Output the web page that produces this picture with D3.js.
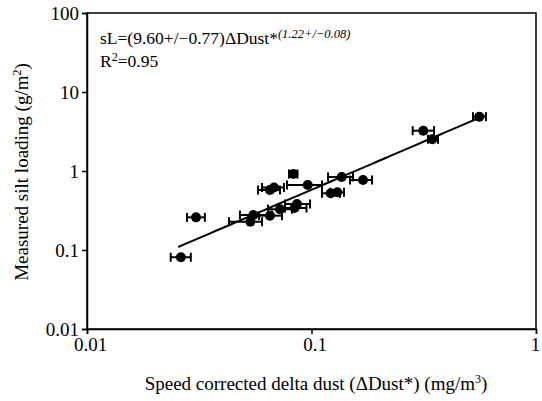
<!DOCTYPE html>
<html>
<head>
<meta charset="utf-8">
<script src="https://cdn.jsdelivr.net/npm/d3@7"></script>
<style>
  body { margin: 0; background: #fff; }
  text { font-family: "Liberation Serif", "Times New Roman", serif; fill: #000; }
</style>
</head>
<body>
<script>
// speed corrected delta dust (mg/m3), its error bar ends, and measured silt loading (g/m2)
var dust    = [0.0262, 0.0306, 0.0534, 0.0551, 0.0653, 0.0724, 0.0862, 0.0840, 0.0653, 0.0681, 0.0830, 0.0962, 0.1218, 0.1303, 0.1363, 0.1696, 0.5591, 0.3148, 0.3452];
var dustLo  = [0.0236, 0.0279, 0.0429, 0.0480, 0.0584, 0.0640, 0.0762, 0.0762, 0.0578, 0.0602, 0.0794, 0.0778, 0.1114, 0.1209, 0.1185, 0.1484, 0.5242, 0.2823, 0.3304];
var dustHi  = [0.0290, 0.0335, 0.0602, 0.0667, 0.0739, 0.0819, 0.0985, 0.0950, 0.0724, 0.0754, 0.0866, 0.1114, 0.1339, 0.1396, 0.1531, 0.1860, 0.5988, 0.3513, 0.3661];
var silt    = [0.081, 0.259, 0.228, 0.277, 0.272, 0.328, 0.382, 0.340, 0.575, 0.618, 0.916, 0.665, 0.522, 0.538, 0.840, 0.769, 4.87, 3.24, 2.52];

// fitted power law sL = a * dust^b
var fitA = 9.60, fitB = 1.22;
var fitRange = [0.0255, 0.59];

var xTicks = [0.01, 0.1, 1];
var yTicks = [0.01, 0.1, 1, 10, 100];

var width = 542, height = 401;
var margin = {left: 87, right: 6, top: 13, bottom: 72};

var svg = d3.select("body").append("svg")
    .attr("width", width)
    .attr("height", height);

var x = d3.scaleLog().domain([0.01, 1]).range([margin.left, width - margin.right]);
var y = d3.scaleLog().domain([0.01, 100]).range([height - margin.bottom, margin.top]);

var fmt = function(d) { return String(d); };

// frame (top & right)
svg.append("rect")
    .attr("x", x(0.01)).attr("y", y(100))
    .attr("width", x(1) - x(0.01)).attr("height", y(0.01) - y(100))
    .attr("fill", "none").attr("stroke", "#000").attr("stroke-width", 1.5);

var xAxis = svg.append("g")
    .attr("transform", "translate(0," + y(0.01) + ")")
    .call(d3.axisBottom(x).tickValues(xTicks).tickFormat(fmt).tickSize(5).tickPadding(4));
var yAxis = svg.append("g")
    .attr("transform", "translate(" + x(0.01) + ",0)")
    .call(d3.axisLeft(y).tickValues(yTicks).tickFormat(fmt).tickSize(5).tickPadding(3));

[xAxis, yAxis].forEach(function(g) {
  g.select(".domain").attr("stroke-width", 1.5);
  g.selectAll(".tick line").attr("stroke-width", 1.5);
  g.selectAll("text").attr("font-family", "Liberation Serif").attr("font-size", 19).attr("fill", "#000");
});
xAxis.selectAll("text").attr("dx", function(d) { return d === 1 ? -1 : 3; });

// regression line
var line = d3.line()
    .x(function(d) { return x(d); })
    .y(function(d) { return y(fitA * Math.pow(d, fitB)); });
var fitX = d3.range(0, 41).map(function(i) { return fitRange[0] * Math.pow(fitRange[1] / fitRange[0], i / 40); });
svg.append("path")
    .attr("d", line(fitX))
    .attr("fill", "none").attr("stroke", "#000").attr("stroke-width", 2);

// error bars
var bars = svg.append("g").attr("stroke", "#000").attr("stroke-width", 2);
dust.forEach(function(d, i) {
  var cy = y(silt[i]);
  bars.append("line").attr("x1", x(dustLo[i])).attr("x2", x(dustHi[i])).attr("y1", cy).attr("y2", cy);
  bars.append("line").attr("x1", x(dustLo[i])).attr("x2", x(dustLo[i])).attr("y1", cy - 4.5).attr("y2", cy + 4.5);
  bars.append("line").attr("x1", x(dustHi[i])).attr("x2", x(dustHi[i])).attr("y1", cy - 4.5).attr("y2", cy + 4.5);
});

svg.append("g").selectAll("circle")
    .data(dust)
    .enter().append("circle")
    .attr("cx", function(d) { return x(d); })
    .attr("cy", function(d, i) { return y(silt[i]); })
    .attr("r", 5)
    .attr("fill", "#000");

// equation
var eq = svg.append("text").attr("x", 100).attr("y", 44).attr("font-size", 17.5);
eq.append("tspan").text("sL=(9.60+/\u22120.77)\u0394Dust*");
eq.append("tspan").attr("dy", -6).attr("font-size", 12.5).attr("font-style", "italic").text("(1.22+/\u22120.08)");
var r2 = svg.append("text").attr("x", 100).attr("y", 67).attr("font-size", 17.5);
r2.append("tspan").text("R");
r2.append("tspan").attr("dy", -6).attr("font-size", 12).text("2");
r2.append("tspan").attr("dy", 6).text("=0.95");

// axis titles
var xt = svg.append("text").attr("x", 316).attr("y", 390).attr("text-anchor", "middle").attr("font-size", 19);
xt.append("tspan").text("Speed corrected delta dust (\u0394Dust*) (mg/m");
xt.append("tspan").attr("dy", -7).attr("font-size", 12).text("3");
xt.append("tspan").attr("dy", 7).text(")");

var yt = svg.append("text").attr("transform", "translate(28,172) rotate(-90)").attr("text-anchor", "middle").attr("font-size", 19);
yt.append("tspan").text("Measured silt loading (g/m");
yt.append("tspan").attr("dy", -7).attr("font-size", 12).text("2");
yt.append("tspan").attr("dy", 7).text(")");
</script>
</body>
</html>
